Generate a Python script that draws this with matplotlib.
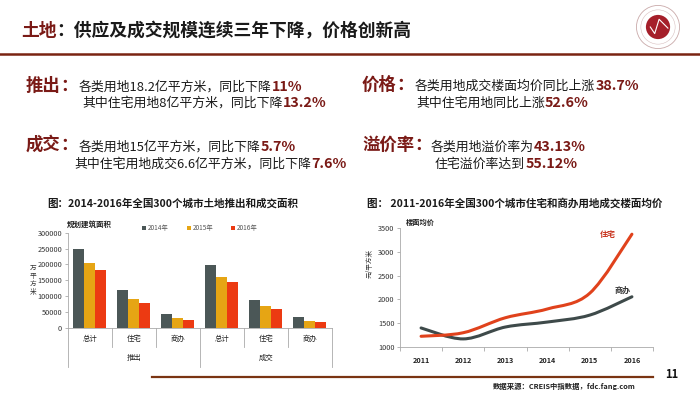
import matplotlib
matplotlib.use('Agg')
import matplotlib.pyplot as plt
from matplotlib.path import Path
from matplotlib.patches import PathPatch, Circle
import matplotlib.transforms as mtransforms
import numpy as np

plt.rcParams['font.family'] = ['Noto Sans CJK SC', 'DejaVu Sans']

# ---- data ----
bar_cats = ['总计', '住宅', '商办', '总计', '住宅', '商办']
bar_groups = ['推出', '成交']
bar_years = ['2014年', '2015年', '2016年']
area_2014 = [250000, 119000, 45000, 197000, 89000, 35000]
area_2015 = [205000, 92000, 31500, 160000, 70000, 22000]
area_2016 = [183000, 80000, 25000, 144000, 60000, 19000]

price_years = ['2011', '2012', '2013', '2014', '2015', '2016']
price_res = [1225, 1300, 1615, 1800, 2130, 3370]
price_com = [1400, 1170, 1420, 1525, 1670, 2055]

W, H = 700, 393
DARK_RED = '#7a1a16'
TXT = '#1a1a1a'

fig = plt.figure(figsize=(7, 3.93), dpi=100)
fig.patch.set_facecolor('white')
renderer = fig.canvas.get_renderer()


def fx(px):
    return px / W


def fy(py):
    return 1 - py / H


def put_runs(x, y, runs):
    # runs: list of (text, size, weight, color); placed one after another
    for s, size, weight, color in runs:
        t = fig.text(fx(x), fy(y), s, fontsize=size, fontweight=weight,
                     color=color, va='center', ha='left')
        bb = t.get_window_extent(renderer)
        x += bb.width


# ---- header ----
put_runs(21, 31, [('土地', 12.8, 'bold', DARK_RED),
                  ('：供应及成交规模连续三年下降，价格创新高', 12.8, 'bold', TXT)])
fig.add_artist(plt.Line2D([0, 1], [fy(54), fy(54)], color='#7a2412', lw=1.8))

# simple logo
logo = fig.add_axes([fx(636), fy(49), fx(44), 44 / H])
logo.set_xlim(-1, 1)
logo.set_ylim(-1, 1)
logo.set_aspect('equal')
logo.axis('off')
logo.add_patch(Circle((0, 0), 0.98, fc='white', ec='#c9a9a9', lw=0.6))
logo.add_patch(Circle((0, 0), 0.78, fc='none', ec='#d8c0c0', lw=0.4))
logo.add_patch(Circle((0, 0), 0.55, fc='#a51f2a', ec='none'))
logo.plot([-0.35, -0.15, 0.05, 0.45], [0.0, -0.3, 0.35, -0.05], color='white', lw=0.8)

# ---- text block ----
N, B = 9.3, 10.3
put_runs(26, 86, [('推出', 12.5, 'bold', DARK_RED), ('：', 12.5, 'bold', DARK_RED)])
put_runs(79, 87, [('各类用地18.2亿平方米，同比下降', N, 'normal', TXT), ('11%', B, 'bold', DARK_RED)])
put_runs(82, 103, [('其中住宅用地8亿平方米，同比下降', N, 'normal', TXT), ('13.2%', B, 'bold', DARK_RED)])
put_runs(26, 145, [('成交', 12.5, 'bold', DARK_RED), ('：', 12.5, 'bold', DARK_RED)])
put_runs(79, 147, [('各类用地15亿平方米，同比下降', N, 'normal', TXT), ('5.7%', B, 'bold', DARK_RED)])
put_runs(74, 164, [('其中住宅用地成交6.6亿平方米，同比下降', N, 'normal', TXT), ('7.6%', B, 'bold', DARK_RED)])

put_runs(362, 85, [('价格', 12.5, 'bold', DARK_RED), ('：', 12.5, 'bold', DARK_RED)])
put_runs(415, 86, [('各类用地成交楼面均价同比上涨', N, 'normal', TXT), ('38.7%', B, 'bold', DARK_RED)])
put_runs(416, 103, [('其中住宅用地同比上涨', N, 'normal', TXT), ('52.6%', B, 'bold', DARK_RED)])
put_runs(362, 145, [('溢价率', 12.5, 'bold', DARK_RED), ('：', 12.5, 'bold', DARK_RED)])
put_runs(431, 147, [('各类用地溢价率为', N, 'normal', TXT), ('43.13%', B, 'bold', DARK_RED)])
put_runs(435, 164, [('住宅溢价率达到', N, 'normal', TXT), ('55.12%', B, 'bold', DARK_RED)])

# chart titles
fig.text(fx(47), fy(203), '图：2014-2016年全国300个城市土地推出和成交面积',
         fontsize=7.6, fontweight='bold', color=TXT, va='center')
fig.text(fx(367), fy(203), '图： 2011-2016年全国300个城市住宅和商办用地成交楼面均价',
         fontsize=7.6, fontweight='bold', color=TXT, va='center')

# ---- left: bar chart ----
ax = fig.add_axes([fx(67.7), fy(328), fx(332 - 67.7), (328 - 232.7) / H])
x = np.arange(len(bar_cats))
bw = 0.25
colors = ['#4b5757', '#e6a514', '#ec3a12']
for i, (vals, lab) in enumerate(zip([area_2014, area_2015, area_2016], bar_years)):
    ax.bar(x + (i - 1) * bw, vals, bw, color=colors[i], label=lab, zorder=2)
ax.set_xlim(-0.5, 5.5)
ax.set_ylim(0, 300000)
ax.set_yticks(np.arange(0, 300001, 50000))
ax.tick_params(axis='y', labelsize=5.3, length=2, width=0.5, color='#999999', labelcolor='#333333', pad=2)
ax.set_xticks([])
for s in ['top', 'right']:
    ax.spines[s].set_visible(False)
for s in ['left', 'bottom']:
    ax.spines[s].set_color('#aaaaaa')
    ax.spines[s].set_linewidth(0.6)
trans = mtransforms.blended_transform_factory(ax.transData, ax.transAxes)
for b in np.arange(-0.5, 6, 1):
    low = -0.41 if b in (-0.5, 2.5, 5.5) else -0.2
    ax.plot([b, b], [0, low], transform=trans, color='#aaaaaa', lw=0.6, clip_on=False)
for xi, c in zip(x, bar_cats):
    ax.text(xi, -0.115, c, transform=trans, ha='center', va='center', fontsize=5.3, color='#222222')
for gi, g in enumerate(bar_groups):
    ax.text(1 + gi * 3, -0.315, g, transform=trans, ha='center', va='center', fontsize=5.3, color='#222222')
fig.text(fx(67), fy(224), '规划建筑面积', fontsize=5.4, fontweight='bold', color='#222222', va='center')
fig.text(fx(33), fy(280), '万\n平\n方\n米', fontsize=4.8, color='#333333', ha='center', va='center',
         linespacing=1.0)
ax.legend(loc='center', bbox_to_anchor=(fx(200), fy(228)), bbox_transform=fig.transFigure,
          ncol=3, frameon=False, fontsize=4.6, handlelength=0.6, handleheight=0.6,
          handletextpad=0.3, columnspacing=2.8, labelcolor='#555555')

# ---- right: line chart ----
ax2 = fig.add_axes([fx(400), fy(347), fx(653 - 400), (347 - 228) / H])
xp = np.arange(len(price_years))


def smooth_path(xs, ys):
    pts = np.column_stack([xs, ys]).astype(float)
    p = np.vstack([pts[0], pts, pts[-1]])
    verts = [pts[0]]
    codes = [Path.MOVETO]
    for i in range(1, len(p) - 2):
        c1 = p[i] + (p[i + 1] - p[i - 1]) / 6
        c2 = p[i + 1] - (p[i + 2] - p[i]) / 6
        verts += [c1, c2, p[i + 1]]
        codes += [Path.CURVE4] * 3
    return Path(verts, codes)


ax2.add_patch(PathPatch(smooth_path(xp, price_com), fc='none', ec='#3e4a4a', lw=2.2, capstyle='round'))
ax2.add_patch(PathPatch(smooth_path(xp, price_res), fc='none', ec='#e0421c', lw=2.2, capstyle='round'))
ax2.set_xlim(-0.5, 5.5)
ax2.set_ylim(1000, 3500)
ax2.set_yticks(np.arange(1000, 3501, 500))
ax2.set_xticks(xp)
ax2.set_xticklabels(price_years, fontsize=5.2, fontweight='bold', color='#222222')
ax2.set_xticks(np.arange(-0.5, 6, 1), minor=True)
ax2.tick_params(axis='x', which='major', length=0, pad=7)
ax2.tick_params(axis='x', which='minor', length=3, width=0.5, color='#999999')
ax2.tick_params(axis='y', labelsize=5.3, length=2, width=0.5, color='#999999', labelcolor='#333333', pad=2)
for s in ['top', 'right']:
    ax2.spines[s].set_visible(False)
for s in ['left', 'bottom']:
    ax2.spines[s].set_color('#aaaaaa')
    ax2.spines[s].set_linewidth(0.6)
fig.text(fx(406), fy(222), '楼面均价', fontsize=5.2, fontweight='bold', color='#222222', va='center')
fig.text(fx(370), fy(263), '元/平方米', fontsize=4.8, color='#333333', rotation=90, ha='center', va='center')
fig.text(fx(608), fy(235), '住宅', fontsize=5.8, fontweight='bold', color='#c8321c', ha='center', va='center')
fig.text(fx(623), fy(290), '商办', fontsize=5.8, fontweight='bold', color='#333333', ha='center', va='center')

# ---- footer ----
fig.add_artist(plt.Line2D([fx(152), fx(653)], [fy(377), fy(377)], color='#7a3412', lw=1.6))
fig.text(fx(672), fy(375), '11', fontsize=8, fontweight='bold', color='#111111', ha='center', va='center')
fig.text(fx(493), fy(386), '数据来源：CREIS中指数据，fdc.fang.com', fontsize=5.3, fontweight='bold',
         color='#222222', va='center')

fig.savefig('out.png', dpi=100, facecolor='white')
